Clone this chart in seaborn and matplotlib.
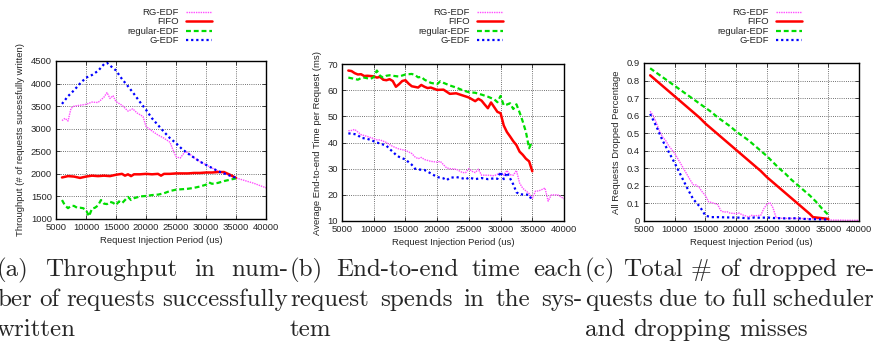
import matplotlib
matplotlib.use("Agg")
import matplotlib.pyplot as plt
import pandas as pd
import seaborn as sns

names = ["RG-EDF", "FIFO", "regular-EDF", "G-EDF"]

# (a) throughput in number of requests written
tp_rg_x = [6000, 6500, 7000, 7500, 8000, 9000, 10000, 11000, 12000, 13000,
           13500, 14000, 14500, 15000, 16000, 17000, 17800, 18500, 19500, 20000,
           21000, 22000, 23000, 24000, 24500, 25000, 25700, 26500, 27000, 28000,
           29000, 30000, 31000, 32000, 33000, 34000, 35000, 36000, 37000, 38000,
           39000, 40000]
tp_rg_y = [3180, 3230, 3170, 3450, 3500, 3520, 3540, 3590, 3580, 3700,
           3800, 3670, 3730, 3600, 3520, 3390, 3440, 3350, 3270, 3050,
           2950, 2860, 2790, 2700, 2530, 2380, 2350, 2490, 2470, 2360,
           2270, 2200, 2130, 2060, 2010, 1960, 1910, 1870, 1830, 1790,
           1740, 1690]
tp_fifo_x = [6000, 7000, 8000, 9000, 10000, 11000, 12000, 13000, 14000, 15000,
             16000, 16500, 17000, 17500, 18000, 19000, 20000, 21000, 22000, 22500,
             23000, 24000, 25000, 26000, 27000, 28000, 29000, 30000, 31000, 32000,
             33000, 34000, 35000]
tp_fifo_y = [1920, 1950, 1940, 1910, 1940, 1960, 1950, 1960, 1950, 1980,
             2000, 1960, 1990, 1950, 1990, 1990, 2000, 1990, 2000, 1960,
             2000, 2000, 2010, 2010, 2010, 2020, 2020, 2030, 2030, 2040,
             2040, 1980, 1910]
tp_reg_x = [6000, 6500, 7000, 7500, 8000, 8500, 9000, 9500, 10000, 10500,
            11000, 11500, 12000, 12500, 13000, 13500, 14000, 14500, 15000, 15500,
            16000, 16500, 17000, 17500, 18000, 19000, 20000, 21000, 22000, 23000,
            24000, 25000, 26000, 27000, 28000, 29000, 30000, 30500, 31000, 32000,
            33000, 34000, 35000]
tp_reg_y = [1420, 1300, 1240, 1290, 1290, 1250, 1250, 1240, 1200, 1060,
            1230, 1250, 1300, 1420, 1340, 1330, 1380, 1360, 1310, 1390,
            1350, 1420, 1490, 1420, 1460, 1500, 1510, 1530, 1540, 1570,
            1620, 1650, 1660, 1670, 1690, 1720, 1760, 1810, 1780, 1800,
            1840, 1870, 1900]
tp_g_x = [6000, 7000, 8000, 9000, 10000, 11000, 12000, 13000, 13500, 14000,
          15000, 16000, 17000, 18000, 19000, 20000, 21000, 22000, 23000, 24000,
          25000, 26000, 27000, 28000, 29000, 30000, 31000, 32000, 33000, 34000,
          35000]
tp_g_y = [3550, 3720, 3850, 4000, 4130, 4190, 4280, 4430, 4460, 4400,
          4290, 4100, 3940, 3770, 3590, 3420, 3230, 3080, 2930, 2790,
          2680, 2550, 2450, 2360, 2270, 2200, 2130, 2060, 2010, 1960,
          1910]

# (b) end-to-end time (ms)
et_rg_x = [6000, 6500, 7000, 7500, 8000, 9000, 10000, 10500, 11000, 12000,
           12500, 13000, 14000, 15000, 16000, 16500, 17000, 17500, 18000, 19000,
           20000, 20500, 21000, 21500, 22000, 23000, 24000, 24500, 25000, 25500,
           26000, 26500, 27000, 28000, 29000, 30000, 30500, 31000, 31500, 32000,
           32500, 33000, 33500, 34000, 34500, 35000, 35500, 36000, 36500, 37000,
           37500, 38000, 39000, 40000]
et_rg_y = [44.5, 44.6, 45.0, 44.0, 43.0, 42.3, 41.5, 41.0, 41.0, 40.0,
           39.2, 38.5, 37.5, 37.0, 35.8, 34.5, 33.8, 34.3, 33.5, 32.8,
           32.5, 32.8, 31.5, 30.3, 30.0, 29.8, 28.5, 28.5, 30.0, 29.0,
           28.5, 29.8, 27.5, 27.5, 27.3, 28.4, 27.5, 29.3, 27.7, 27.5,
           29.3, 24.5, 22.5, 21.5, 20.5, 18.5, 21.4, 21.5, 22.0, 22.6,
           17.6, 20.0, 20.0, 18.5]
et_fifo_x = [6000, 6500, 7000, 7500, 8000, 8500, 9000, 10000, 10500, 11000,
             11500, 12000, 12500, 13000, 13500, 14000, 14500, 15000, 15500, 16000,
             17000, 17500, 18000, 18500, 19000, 20000, 21000, 22000, 23000, 24000,
             25000, 26000, 26500, 27000, 27500, 28000, 28500, 29000, 29500, 30000,
             30500, 31000, 31500, 32000, 32500, 33000, 33500, 34000, 34500, 35000]
et_fifo_y = [67.5, 67.3, 66.5, 66.0, 66.1, 65.4, 65.5, 65.3, 64.8, 65.1,
             64.0, 63.8, 64.2, 63.5, 61.3, 62.3, 63.5, 63.8, 62.5, 61.5,
             61.0, 62.0, 61.3, 60.8, 61.0, 60.1, 60.2, 58.6, 58.8, 58.0,
             57.2, 55.8, 56.7, 56.0, 54.5, 53.1, 55.3, 53.5, 51.7, 51.2,
             46.5, 44.0, 42.3, 40.5, 39.0, 36.5, 35.3, 33.8, 32.8, 29.0]
et_reg_x = [6000, 7000, 7500, 8000, 8500, 9500, 10000, 10500, 11000, 11500,
            12000, 12500, 13000, 14000, 15000, 16000, 16500, 17000, 17500, 18000,
            19000, 20000, 20500, 21000, 22000, 23000, 24000, 25000, 26000, 27000,
            28000, 29000, 29500, 30000, 30500, 31000, 31500, 32000, 32500, 33000,
            33500, 34000, 34500, 35000]
et_reg_y = [64.8, 64.3, 64.0, 64.6, 64.8, 64.3, 65.0, 67.5, 65.5, 64.8,
            65.5, 65.7, 65.5, 65.2, 66.0, 66.2, 65.8, 64.9, 65.1, 64.0,
            62.8, 62.3, 63.4, 62.8, 61.8, 61.0, 60.0, 59.2, 59.0, 58.3,
            57.5, 56.5, 55.4, 57.8, 54.2, 54.5, 55.0, 52.8, 54.6, 51.5,
            48.0, 44.0, 37.8, 40.5]
et_g_x = [6000, 7000, 7500, 8000, 9000, 10000, 10500, 11000, 12000, 12500,
          13000, 13500, 14000, 15000, 16000, 16500, 17000, 18000, 19000, 20000,
          21000, 21500, 22000, 23000, 24000, 24500, 25000, 26000, 27000, 28000,
          29000, 29500, 30000, 30500, 31000, 31500, 32000, 32500, 33000, 34000,
          34500, 35000]
et_g_y = [43.5, 43.2, 42.8, 41.8, 41.4, 40.5, 40.0, 39.6, 38.8, 37.5,
          36.5, 35.3, 34.5, 33.5, 31.5, 30.0, 29.7, 29.5, 28.2, 26.8,
          26.3, 25.6, 26.5, 26.8, 26.3, 25.9, 26.6, 26.0, 26.4, 26.0,
          26.3, 26.1, 28.8, 26.0, 28.5, 26.3, 24.0, 21.0, 20.2, 20.1,
          20.0, 17.6]

# (c) dropped fraction
dp_rg_x = [6000, 6500, 7000, 7500, 8000, 8500, 9000, 10000, 11000, 12000,
           12500, 13000, 13500, 14000, 14500, 15000, 15500, 16000, 16500, 17000,
           17500, 18000, 18500, 19000, 20000, 20500, 21000, 21500, 22000, 22500,
           23000, 24000, 24500, 25000, 25500, 26000, 26500, 27000, 28000, 29000,
           30000, 31000, 32000, 33000, 34000, 35000, 36000, 37000, 38000, 39000,
           40000]
dp_rg_y = [0.625, 0.60, 0.56, 0.515, 0.48, 0.46, 0.43, 0.385, 0.325, 0.265,
           0.235, 0.207, 0.205, 0.19, 0.165, 0.145, 0.11, 0.105, 0.10, 0.093,
           0.06, 0.05, 0.053, 0.045, 0.042, 0.045, 0.035, 0.03, 0.022, 0.032,
           0.03, 0.032, 0.07, 0.095, 0.105, 0.075, 0.02, 0.016, 0.015, 0.015,
           0.014, 0.014, 0.013, 0.012, 0.01, 0.006, 0.005, 0.005, 0.004, 0.004,
           0.004]
dp_fifo_x = [6000, 7000, 8000, 9000, 10000, 11000, 12000, 13000, 14000, 15000,
             16000, 17000, 18000, 19000, 20000, 21000, 22000, 23000, 24000, 25000,
             26000, 27000, 28000, 29000, 30000, 31000, 32000, 32500, 33000, 34000,
             35000]
dp_fifo_y = [0.83, 0.80, 0.77, 0.74, 0.71, 0.68, 0.65, 0.62, 0.59, 0.555,
             0.525, 0.495, 0.465, 0.435, 0.405, 0.375, 0.345, 0.315, 0.285, 0.25,
             0.22, 0.19, 0.16, 0.13, 0.10, 0.07, 0.04, 0.022, 0.02, 0.016,
             0.012]
dp_reg_x = [6000, 7000, 8000, 9000, 10000, 11000, 12000, 13000, 14000, 15000,
            16000, 17000, 18000, 19000, 20000, 21000, 22000, 23000, 24000, 25000,
            26000, 27000, 28000, 29000, 30000, 31000, 32000, 33000, 34000, 35000]
dp_reg_y = [0.87, 0.845, 0.82, 0.795, 0.77, 0.745, 0.72, 0.695, 0.67, 0.645,
            0.62, 0.59, 0.565, 0.54, 0.51, 0.485, 0.46, 0.43, 0.40, 0.37,
            0.335, 0.30, 0.27, 0.235, 0.205, 0.175, 0.145, 0.11, 0.07, 0.035]
dp_g_x = [6000, 7000, 8000, 9000, 10000, 11000, 12000, 13000, 13500, 14000,
          14500, 15000, 16000, 17000, 18000, 19000, 20000, 21000, 22000, 23000,
          24000, 25000, 26000, 27000, 28000, 29000, 30000, 31000, 32000, 33000,
          34000, 35000]
dp_g_y = [0.61, 0.54, 0.46, 0.395, 0.33, 0.26, 0.19, 0.125, 0.105, 0.085,
          0.06, 0.03, 0.022, 0.022, 0.021, 0.02, 0.02, 0.018, 0.015, 0.02,
          0.018, 0.02, 0.017, 0.016, 0.015, 0.015, 0.016, 0.012, 0.01, 0.01,
          0.009, 0.008]

x_ticks = [5000, 10000, 15000, 20000, 25000, 30000, 35000, 40000]

captions = [
    ["(a) Throughput in num-", "ber of requests successfully", "written"],
    ["(b) End-to-end time each", "request spends in the sys-", "tem"],
    ["(c) Total # of dropped re-", "quests due to full scheduler", "and dropping misses"],
]

sns.set_style("ticks")
plt.rcParams["font.family"] = ["Liberation Sans", "DejaVu Sans"]

W, H = 877, 351
fig = plt.figure(figsize=(W / 100, H / 100), dpi=100)

look = {
    "RG-EDF": dict(color="#ff4dff", linewidth=1.0, linestyle=(0, (1, 0.7))),
    "FIFO": dict(color="#ff0000", linewidth=1.8, linestyle="-"),
    "regular-EDF": dict(color="#00dd00", linewidth=1.6, linestyle=(0, (2.2, 1.3))),
    "G-EDF": dict(color="#0000ff", linewidth=1.6, linestyle=(0, (1, 1.3))),
}


def px(l, t, r, b):
    return [l / W, 1 - b / H, (r - l) / W, (b - t) / H]


panels = [
    dict(box=px(56, 61, 266, 219),
         series=[(tp_rg_x, tp_rg_y), (tp_fifo_x, tp_fifo_y), (tp_reg_x, tp_reg_y), (tp_g_x, tp_g_y)],
         ylim=(1000, 4500), yticks=[1000, 1500, 2000, 2500, 3000, 3500, 4000, 4500],
         ylabel="Throughput (# of requests sucessfully written)", leg=212),
    dict(box=px(342, 64, 564, 221),
         series=[(et_rg_x, et_rg_y), (et_fifo_x, et_fifo_y), (et_reg_x, et_reg_y), (et_g_x, et_g_y)],
         ylim=(10, 70), yticks=[10, 20, 30, 40, 50, 60, 70],
         ylabel="Average End-to-end Time per Request (ms)", leg=503),
    dict(box=px(644, 63, 859, 221),
         series=[(dp_rg_x, dp_rg_y), (dp_fifo_x, dp_fifo_y), (dp_reg_x, dp_reg_y), (dp_g_x, dp_g_y)],
         ylim=(0, 0.9), yticks=[0, 0.1, 0.2, 0.3, 0.4, 0.5, 0.6, 0.7, 0.8, 0.9],
         ylabel="All Requests Dropped Percentage", leg=802),
]

fs = 6.8
for p in panels:
    ax = fig.add_axes(p["box"])
    for name, (xs, ys) in zip(names, p["series"]):
        df = pd.DataFrame({"x": xs, "y": ys})
        sns.lineplot(data=df, x="x", y="y", ax=ax, label=name,
                     estimator=None, sort=False, **look[name])
    ax.set_xlim(5000, 40000)
    ax.set_xticks(x_ticks, labels=[str(v) for v in x_ticks])
    ax.set_ylim(*p["ylim"])
    ax.set_yticks(p["yticks"], labels=[f"{v:g}" for v in p["yticks"]])
    ax.grid(True, color="#444444", linestyle=(0, (1, 1.6)), linewidth=0.6)
    ax.tick_params(direction="in", top=True, right=True, length=3, width=0.6,
                   labelsize=fs, pad=3)
    for s in ax.spines.values():
        s.set_linewidth(1.0)
        s.set_color("black")
    ax.set_xlabel("Request Injection Period (us)", fontsize=fs, labelpad=3)
    ax.set_ylabel(p["ylabel"], fontsize=fs, labelpad=4)
    h, l = ax.get_legend_handles_labels()
    ax.legend(h, l, loc="upper right", bbox_to_anchor=(p["leg"] / W, 1 - 8 / H),
              bbox_transform=fig.transFigure, frameon=False, markerfirst=False,
              fontsize=fs, handlelength=2.8, handletextpad=0.7, labelspacing=0.05,
              borderpad=0, borderaxespad=0)

# justified captions below the panels
renderer = fig.canvas.get_renderer()
cap_size = 18
cols = [(-3, 288), (290, 582), (585, 874)]
for lines, (left, right) in zip(captions, cols):
    for k, line in enumerate(lines):
        words = line.split(" ")
        base = 276 + 30 * k
        ts = [fig.text(0, 1 - base / H, w, fontsize=cap_size,
                       family=["cmr10", "DejaVu Serif"], va="baseline") for w in words]
        ws = [t.get_window_extent(renderer).width for t in ts]
        if k < len(lines) - 1 and len(words) > 1:
            gap = (right - left - sum(ws)) / (len(words) - 1)
        else:
            gap = cap_size * 100 / 72 * 0.333
        x = left
        for t, w in zip(ts, ws):
            t.set_x(x / W)
            x += w + gap

fig.savefig("out.png", dpi=100)
